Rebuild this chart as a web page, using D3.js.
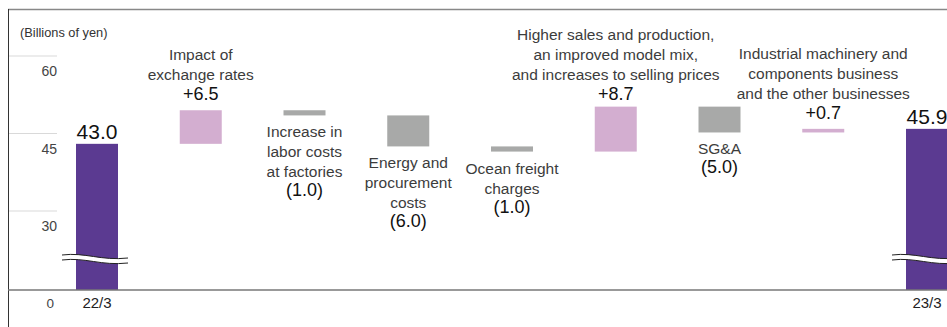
<!DOCTYPE html>
<html>
<head>
<meta charset="utf-8">
<script src="https://cdn.jsdelivr.net/npm/d3@7"></script>
<style>
  html, body { margin: 0; padding: 0; background: #fff; }
  svg { display: block; font-family: "Liberation Sans", Arial, Helvetica, sans-serif; }
</style>
</head>
<body>
<svg id="chart" width="947" height="327"></svg>
<script>
// ---- data ----
const categories = ["22/3", "fx", "labor", "energy", "ocean", "sales", "sga", "industrial", "23/3"];
const categoryLabels = [
  [],
  ["Impact of", "exchange rates"],
  ["Increase in", "labor costs", "at factories"],
  ["Energy and", "procurement", "costs"],
  ["Ocean freight", "charges"],
  ["Higher sales and production,", "an improved model mix,", "and increases to selling prices"],
  ["SG&A"],
  ["Industrial machinery and", "components business", "and the other businesses"],
  []
];
const startValue = 43.0;
const endValue = 45.9;
const deltas = [6.5, -1.0, -6.0, -1.0, 8.7, -5.0, 0.7];
const valueLabels = ["43.0", "+6.5", "(1.0)", "(6.0)", "(1.0)", "+8.7", "(5.0)", "+0.7", "45.9"];
const xTickLabels = ["22/3", "", "", "", "", "", "", "", "23/3"];
const yTicks = [30, 45, 60];
const yZeroLabel = "0";
const unitLabel = "(Billions of yen)";

// ---- layout ----
const W = 947, H = 327;
const baseY = 290;
const svg = d3.select("#chart");

const x = d3.scalePoint().domain(categories).range([97, 927]);
// broken axis: 0 at baseline, 30..60 linear
const y = d3.scaleLinear().domain([0, 30, 60]).range([baseY, 211, 56]);
const barW = 42;

const colors = { total: "#5b3a91", up: "#d3aed0", down: "#a8a9a8" };

// build waterfall rows
const rows = [];
rows.push({ cat: categories[0], y0: 0, y1: startValue, type: "total" });
let run = startValue;
deltas.forEach((d, i) => {
  const a = run, b = run + d;
  rows.push({ cat: categories[i + 1], y0: Math.min(a, b), y1: Math.max(a, b), type: d >= 0 ? "up" : "down" });
  run = b;
});
rows.push({ cat: categories[8], y0: 0, y1: endValue, type: "total" });
rows.forEach((r, i) => { r.label = valueLabels[i]; r.names = categoryLabels[i]; });

// frame
svg.append("line").attr("x1", 8).attr("x2", W).attr("y1", 9.5).attr("y2", 9.5)
  .attr("stroke", "#888").attr("stroke-width", 1.6);
svg.append("line").attr("x1", 8.5).attr("x2", 8.5).attr("y1", 9).attr("y2", H)
  .attr("stroke", "#333").attr("stroke-width", 1);

// gridlines + y tick labels
const yg = svg.append("g");
yTicks.forEach(t => {
  yg.append("line").attr("x1", 9).attr("x2", 57).attr("y1", y(t)).attr("y2", y(t))
    .attr("stroke", "#d9d9d9").attr("stroke-width", 1);
  yg.append("text").attr("x", 57).attr("y", y(t) + 20).attr("text-anchor", "end")
    .attr("font-size", 14).attr("fill", "#444").text(t);
});
yg.append("text").attr("x", 54).attr("y", 308).attr("text-anchor", "end")
  .attr("font-size", 13.5).attr("fill", "#444").text(yZeroLabel);
svg.append("text").attr("x", 20).attr("y", 37).attr("font-size", 12.8).attr("fill", "#333").text(unitLabel);

// bars
svg.append("g").selectAll("rect").data(rows).join("rect")
  .attr("x", d => x(d.cat) - barW / 2)
  .attr("width", barW)
  .attr("y", d => y(d.y1))
  .attr("height", d => Math.max(1, (d.type === "total" ? baseY : y(d.y0)) - y(d.y1)))
  .attr("fill", d => colors[d.type]);

// axis break symbols on total bars
rows.filter(r => r.type === "total").forEach(r => {
  const cx = x(r.cat);
  const x0 = cx - 35, x1 = cx + 31, yb = 255;
  const top = `M${x0},${yb} C${cx - 12},${yb - 3} ${cx + 4},${yb + 6} ${x1},${yb + 3}`;
  const bot = `M${x0},${yb + 5} C${cx - 12},${yb + 2} ${cx + 4},${yb + 11} ${x1},${yb + 8}`;
  const fill = `M${x0},${yb} C${cx - 12},${yb - 3} ${cx + 4},${yb + 6} ${x1},${yb + 3} L${x1},${yb + 8} C${cx + 4},${yb + 11} ${cx - 12},${yb + 2} ${x0},${yb + 5} Z`;
  svg.append("path").attr("d", fill).attr("fill", "#fff");
  svg.append("path").attr("d", top).attr("fill", "none").attr("stroke", "#222").attr("stroke-width", 1);
  svg.append("path").attr("d", bot).attr("fill", "none").attr("stroke", "#222").attr("stroke-width", 1);
});

// baseline
svg.append("line").attr("x1", 8).attr("x2", W).attr("y1", baseY).attr("y2", baseY)
  .attr("stroke", "#777").attr("stroke-width", 1.6);

// x tick labels
svg.append("g").selectAll("text").data(categories).join("text")
  .attr("x", d => x(d)).attr("y", 308).attr("text-anchor", "middle")
  .attr("font-size", 15).attr("fill", "#222")
  .text((d, i) => xTickLabels[i]);

// labels
const lineH = 20;
rows.forEach(r => {
  const cx = x(r.cat);
  const g = svg.append("g").attr("text-anchor", "middle");
  if (r.type === "total") {
    g.append("text").attr("x", cx).attr("y", y(r.y1) - 5).attr("font-size", 21).attr("fill", "#111").text(r.label);
  } else if (r.type === "up") {
    const vb = Math.max(y(r.y1) - 10, 100);
    g.append("text").attr("x", cx).attr("y", vb).attr("font-size", 18).attr("fill", "#111").text(r.label);
    r.names.slice().reverse().forEach((n, k) => {
      g.append("text").attr("x", cx).attr("y", vb - lineH * (k + 1)).attr("font-size", 15.5).attr("fill", "#3c3c3c").text(n);
    });
  } else {
    const fb = y(r.y0) + 22;
    r.names.forEach((n, k) => {
      g.append("text").attr("x", cx).attr("y", fb + lineH * k).attr("font-size", 15.5).attr("fill", "#3c3c3c").text(n);
    });
    g.append("text").attr("x", cx).attr("y", fb + lineH * r.names.length - 1).attr("font-size", 18).attr("fill", "#111").text(r.label);
  }
});
</script>
</body>
</html>
